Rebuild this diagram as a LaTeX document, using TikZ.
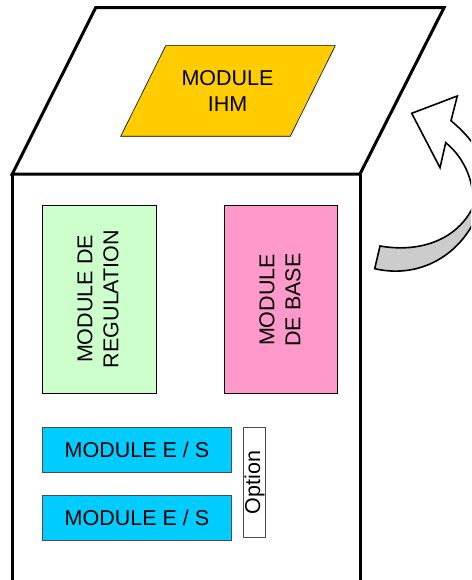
\documentclass[tikz,border=0pt]{standalone}
\usepackage{fontspec}
\setmainfont{Liberation Sans}
\usetikzlibrary{positioning}
\definecolor{Ihm}{HTML}{FFCC00}
\definecolor{Regul}{HTML}{CCFFCC}
\definecolor{Base}{HTML}{FF99CC}
\definecolor{Es}{HTML}{00CCFF}
\definecolor{Shade}{HTML}{CCCCCC}
\tikzset{
caseline/.style={draw=black, line width=3pt, line join=miter},
moduletext/.style={align=center, inner sep=0pt, font=\fontsize{21.5}{26}\selectfont},
modulebox/.style={moduletext, draw=black, line width=0.6pt},
modulesoft/.style={modulebox, draw=black!70, line width=0.9pt},
turnarrow/.style={draw=black, line width=1.6pt, line join=miter}
}
\begin{document}
\begin{tikzpicture}[x=1pt, y=-1pt]
  \clip (0,0) rectangle (471,580);
  \fill[white] (0,0) rectangle (471,580);
  % casing
  \draw[caseline] (95.7,7.7) -- (444,7.7) -- (360,174) -- (12.3,174) -- cycle;
  \draw[caseline] (12.3,174) -- (12.3,582);
  \draw[caseline] (360,174) -- (360,582);
  % top panel
  \draw[draw=black, line width=0.6pt, fill=Ihm] (165.7,45.7) -- (335.3,45.7) -- (290.3,136.3) -- (120.7,136.3) -- cycle;
  \node[moduletext] (ihm) at (227.5,90.5) {MODULE\\IHM};
  % front modules
  \node[modulebox, fill=Regul, minimum width=114pt, minimum height=188pt] (regul) at (99,299) {};
  \node[moduletext, rotate=90] (regultxt) at (98,299) {MODULE DE\\REGULATION};
  \node[modulebox, fill=Base, minimum width=113pt, minimum height=188pt] (base) at (280.5,299) {};
  \node[moduletext, rotate=90] (basetxt) at (280,300) {MODULE\\DE BASE};
  \node[modulesoft, fill=Es, minimum width=189pt, minimum height=45.5pt] (es1) at (137,450) {MODULE E / S};
  \node[modulesoft, fill=Es, minimum width=189pt, minimum height=45.5pt] (es2) at (137,518) {MODULE E / S};
  \node[modulesoft, fill=white, minimum width=22.5pt, minimum height=110pt] (option) at (254.2,482.3) {};
  \node[moduletext, rotate=90] (optiontxt) at (254.5,482.5) {Option};
  % turning arrow
  \draw[turnarrow, fill=Shade] (380,246) .. controls (420,253) and (458,240) .. (474,205)
    -- (474,222) .. controls (454,260) and (415,278) .. (374.7,268.7) -- cycle;
  \draw[turnarrow, fill=white] (411.7,113.3) -- (457.3,96) -- (451,120.7)
    .. controls (462,130) and (472,140) .. (480,155) -- (480,200) -- (472,208)
    .. controls (476,185) and (465,158) .. (445.7,142.7) -- (440,167.7) -- cycle;
\end{tikzpicture}
\end{document}
